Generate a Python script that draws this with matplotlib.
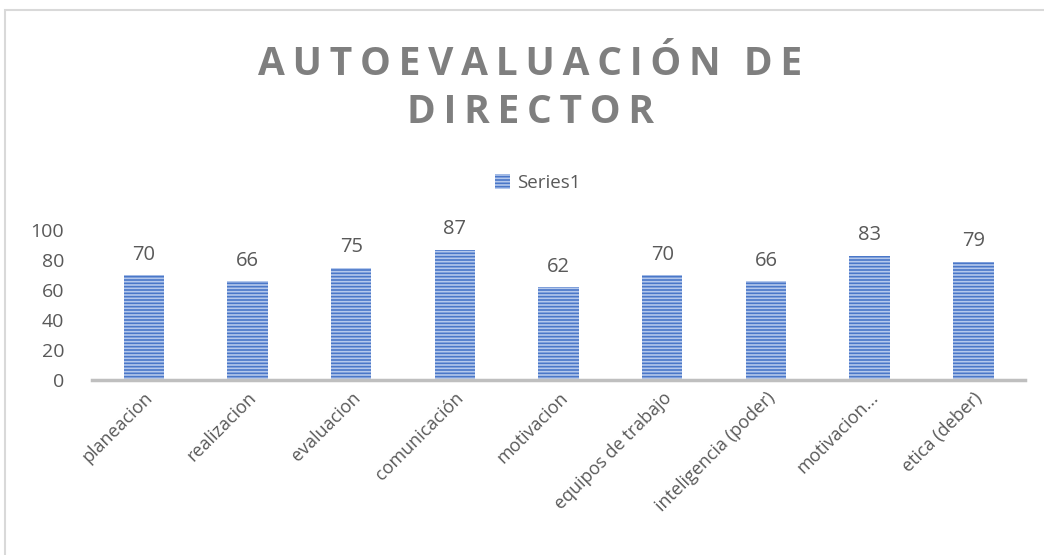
import numpy as np
import matplotlib.pyplot as plt
from matplotlib.patches import Rectangle

plt.rcParams['font.family'] = ['Open Sans', 'DejaVu Sans']

categories = ["planeacion", "realizacion", "evaluacion", "comunicación", "motivacion",
              "equipos de trabajo", "inteligencia (poder)", "motivacion...", "etica (deber)"]
values = [70, 66, 75, 87, 62, 70, 66, 83, 79]
yticks = [0, 20, 40, 60, 80, 100]

gray = "#595959"
plt.rcParams['hatch.linewidth'] = 1.2

fig = plt.figure(figsize=(10.44, 5.55), dpi=100)
fig.patches.append(Rectangle((0.005, -0.01), 1.2, 0.992, transform=fig.transFigure,
                             fill=False, edgecolor="#d9d9d9", lw=1.5))

ax = fig.add_axes([0.088, 0.315, 0.894, 0.270])
x = np.arange(len(categories))
bars = ax.bar(x, values, width=0.39, color="#4a77c8", edgecolor="#b4c8ec",
              hatch="-----", linewidth=0, label="Series1", zorder=2)

for xi, v in zip(x, values):
    ax.text(xi, v + 7, str(v), ha="center", va="bottom", fontsize=14.5, color=gray)

ax.set_xlim(-0.5, len(categories) - 0.5)
ax.set_ylim(0, 100)
ax.set_yticks(yticks)
ax.set_xticks(x)
ax.set_xticklabels(categories, rotation=45, ha="right", rotation_mode="anchor",
                   fontsize=13, color=gray)
ax.tick_params(axis="y", labelsize=14, colors=gray, length=0, pad=20)
ax.tick_params(axis="x", length=0, pad=6)
for s in ["top", "right", "left"]:
    ax.spines[s].set_visible(False)
ax.spines["bottom"].set_color("#bfbfbf")
ax.spines["bottom"].set_linewidth(2.5)

title1 = "\u2009".join("AUTOEVALUACIÓN") + "\u2009\u2009\u2009" + "\u2009".join("DE")
title2 = "\u2009".join("DIRECTOR")
fig.text(0.508, 0.84, title1 + "\n" + title2, ha="center",
         va="center", fontsize=28, fontweight="bold", color="#7f7f7f", linespacing=1.3)

fig.legend(handles=[bars], labels=["Series1"], loc="center", bbox_to_anchor=(0.515, 0.67),
           frameon=False, fontsize=13.5, labelcolor=gray, handlelength=0.8, handleheight=0.8,
           handletextpad=0.4)

fig.savefig("out.png", dpi=100)
